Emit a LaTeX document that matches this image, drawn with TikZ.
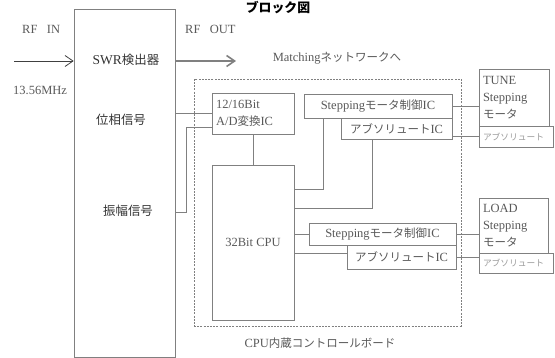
\documentclass[tikz,border=0pt]{standalone}
\usepackage{fontspec}
\setmainfont{Liberation Serif}
\newfontfamily\jpfont[Scale=0.92]{Noto Sans CJK JP}
\newcommand\jtext[1]{{\jpfont #1}}
\usetikzlibrary{arrows.meta}
\definecolor{linec}{gray}{0.5}
\definecolor{txtc}{gray}{0.35}
\definecolor{lighttxt}{gray}{0.6}
\begin{document}
\begin{tikzpicture}[x=1pt,y=-1pt,
  box/.style={draw=linec, line width=0.6pt, inner sep=3pt, text=txtc,
    font=\fontsize{12.5}{17}\selectfont},
  smallbox/.style={draw=linec, line width=0.6pt, inner sep=3pt, text=lighttxt,
    font=\fontsize{9.5}{11}\selectfont},
  lbl/.style={text=txtc, inner sep=0pt, font=\fontsize{12.5}{15}\selectfont},
  biglbl/.style={text=black!80, inner sep=0pt, font=\fontsize{13.5}{15}\selectfont},
  conn/.style={draw=linec, line width=0.6pt},
  sigarrow/.style={line width=0.8pt, -{Straight Barb[length=8pt,width=11pt]}}
]
\useasboundingbox (0,0) rectangle (555,358);

% title
\node[inner sep=0pt, font=\fontsize{14}{14}\selectfont\bfseries] (title) at (278,7.5) {\jtext{ブロック図}};

% SWR detector
\node[box, minimum width=101pt, minimum height=348pt] (swr) at (124.5,183) {};
\node[biglbl] (swrlbl) at (126,60) {SWR\jtext{検出器}};
\node[biglbl] (phase) at (121,120) {\jtext{位相信号}};
\node[biglbl] (amp) at (128,211) {\jtext{振幅信号}};

% side labels
\node[lbl, anchor=west] (rfin) at (22,29) {RF\ \ \ IN};
\node[lbl, anchor=west] (rfout) at (185,29) {RF\ \ \ OUT};
\node[lbl, anchor=west] (freq) at (13,90) {13.56MHz};
\node[lbl] (match) at (337,58) {Matching\jtext{ネットワークへ}};

% arrows
\coordinate (instart) at (14,61);
\draw[sigarrow, draw=black!75] (instart) -- (instart -| swr.west);
\coordinate (outend) at (236,61);
\draw[sigarrow, draw=linec, line width=1.6pt] (outend -| swr.east) -- (outend);

% control board
\node[draw=linec, line width=0.6pt, dash pattern=on 2pt off 1.2pt,
  minimum width=267pt, minimum height=247pt, inner sep=0pt] (board) at (327.5,202.5) {};
\node[lbl] (boardlbl) at (320,343) {CPU\jtext{内蔵コントロールボード}};

% A/D and CPU
\node[box, minimum width=82pt, minimum height=41pt, text width=74pt, align=left] (ad) at (253,113.5)
  {12/16Bit\\A/D\jtext{変換}IC};
\node[box, minimum width=82pt, minimum height=155pt] (cpu) at (253,242.5) {32Bit CPU};

% upper ICs
\node[box, minimum width=148pt, minimum height=24pt] (step1) at (378,106) {Stepping\jtext{モータ制御}IC};
\node[box, minimum width=111pt, minimum height=21pt] (abs1) at (396.5,128.5) {\jtext{アブソリュート}IC};
% lower ICs
\node[box, minimum width=147pt, minimum height=22pt] (step2) at (382.5,234) {Stepping\jtext{モータ制御}IC};
\node[box, minimum width=109pt, minimum height=24pt] (abs2) at (401.5,257) {\jtext{アブソリュート}IC};

% motors
\node[box, minimum width=70pt, minimum height=57pt, text width=62pt, align=left] (tune) at (514,97.5)
  {TUNE\\Stepping\\\jtext{モータ}};
\node[smallbox, minimum width=74pt, minimum height=21pt, text width=66pt, align=left] (tabs) at (516,136.5)
  {\jtext{アブソリュート}};
\node[box, minimum width=69pt, minimum height=55pt, text width=61pt, align=left] (load) at (513.5,225.5)
  {LOAD\\Stepping\\\jtext{モータ}};
\node[smallbox, minimum width=74pt, minimum height=20pt, text width=66pt, align=left] (labs) at (516,263)
  {\jtext{アブソリュート}};

% connectors
\draw[conn] (ad.west) -- (ad.west -| swr.east);
\draw[conn] (swr.east |- 0,212) -| (186,127) -- (ad.west |- 0,127);
\draw[conn] (ad.south) -- (cpu.north);
\draw[conn] (step1.south -| 323,0) |- (cpu.east |- 0,189);
\draw[conn] (abs1.south -| 372,0) |- (cpu.east |- 0,208);
\draw[conn] (step1.east) -- (step1.east -| tune.west);
\draw[conn] (tabs.west) -- (tabs.west -| abs1.east);
\draw[conn] (step2.west) -- (step2.west -| cpu.east);
\draw[conn] (cpu.east |- 0,253) -- (abs2.west |- 0,253);
\draw[conn] (step2.east) -- (step2.east -| load.west);
\draw[conn] (abs2.east) -- (abs2.east -| labs.west);
\end{tikzpicture}
\end{document}
